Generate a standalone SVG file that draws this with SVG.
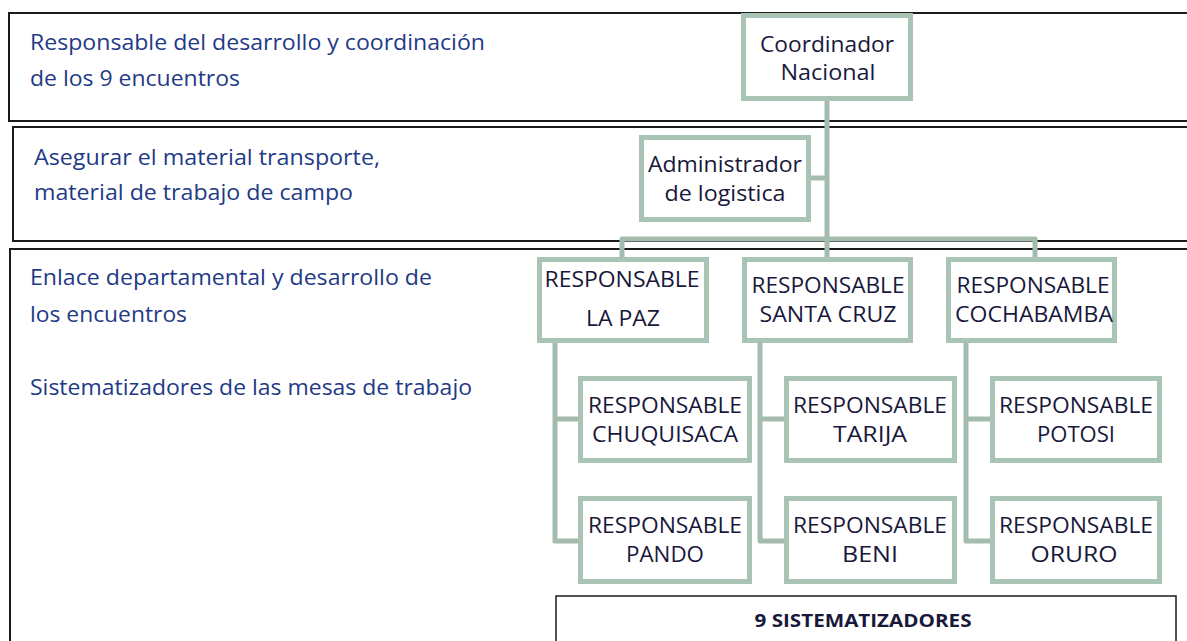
<svg xmlns="http://www.w3.org/2000/svg" width="1187" height="641" viewBox="0 0 1187 641">
<style>
.band{fill:none;stroke:#1a1a1a;stroke-width:2}
.note{font-family:"Open Sans","Liberation Sans",sans-serif;font-size:21px;fill:#1f3a86}
.box{fill:#fff;stroke:#a9c3b5;stroke-width:5}
.lbl{font-family:"Open Sans","Liberation Sans",sans-serif;font-size:22px;fill:#18183a;text-anchor:middle}
.conn{fill:none;stroke:#a3bcae;stroke-width:5;stroke-linejoin:round}
.sys{fill:#fff;stroke:#1a1a1a;stroke-width:1.5}
.bold{font-family:"Open Sans","Liberation Sans",sans-serif;font-size:17px;font-weight:bold;fill:#18183a;text-anchor:middle}
</style>
<rect width="1187" height="641" fill="#fff"/>
<g id="bands">
<rect class="band" x="9" y="13" width="1200" height="108"/>
<rect class="band" x="13" y="127" width="1200" height="114"/>
<rect class="band" x="10" y="249" width="1200" height="420"/>
<text class="note" x="30" y="50" textLength="455" lengthAdjust="spacingAndGlyphs">Responsable del desarrollo y coordinación</text>
<text class="note" x="30" y="86" textLength="210" lengthAdjust="spacingAndGlyphs">de los 9 encuentros</text>
<text class="note" x="34" y="165" textLength="346" lengthAdjust="spacingAndGlyphs">Asegurar el material transporte,</text>
<text class="note" x="34" y="200" textLength="319" lengthAdjust="spacingAndGlyphs">material de trabajo de campo</text>
<text class="note" x="30" y="285" textLength="402" lengthAdjust="spacingAndGlyphs">Enlace departamental y desarrollo de</text>
<text class="note" x="30" y="322" textLength="157" lengthAdjust="spacingAndGlyphs">los encuentros</text>
<text class="note" x="30" y="395" textLength="442" lengthAdjust="spacingAndGlyphs">Sistematizadores de las mesas de trabajo</text>
</g>
<g id="connectors">
<path class="conn" d="M827 101 V239"/>
<path class="conn" d="M811 178 H827"/>
<path class="conn" d="M622 257 V239 H1035 V257"/>
<path class="conn" d="M827 239 V257"/>
<path class="conn" d="M555 343 V541 H578 M555 419 H578"/>
<path class="conn" d="M760 343 V541 H784 M760 419 H784"/>
<path class="conn" d="M966 343 V541 H990 M966 419 H990"/>
</g>
<g id="coordinador">
<rect class="box" x="743.5" y="15.5" width="167" height="83"/>
<text class="lbl" x="827" y="52" textLength="134" lengthAdjust="spacingAndGlyphs">Coordinador</text>
<text class="lbl" x="828" y="80" textLength="95" lengthAdjust="spacingAndGlyphs">Nacional</text>
</g>
<g id="administrador">
<rect class="box" x="641.5" y="137.5" width="167" height="82"/>
<text class="lbl" x="725" y="172" textLength="154" lengthAdjust="spacingAndGlyphs">Administrador</text>
<text class="lbl" x="725" y="201" textLength="121" lengthAdjust="spacingAndGlyphs">de logistica</text>
</g>
<g id="lapaz">
<rect class="box" x="539.5" y="259.5" width="167" height="81"/>
<text class="lbl" x="622" y="287" textLength="155" lengthAdjust="spacingAndGlyphs">RESPONSABLE</text>
<text class="lbl" x="623" y="326" textLength="74" lengthAdjust="spacingAndGlyphs">LA PAZ</text>
</g>
<g id="santacruz">
<rect class="box" x="744.5" y="259.5" width="166" height="81"/>
<text class="lbl" x="828" y="293" textLength="153" lengthAdjust="spacingAndGlyphs">RESPONSABLE</text>
<text class="lbl" x="828" y="322" textLength="137" lengthAdjust="spacingAndGlyphs">SANTA CRUZ</text>
</g>
<g id="cochabamba">
<rect class="box" x="948.5" y="259.5" width="166" height="81"/>
<text class="lbl" x="1033" y="293" textLength="153" lengthAdjust="spacingAndGlyphs">RESPONSABLE</text>
<text class="lbl" x="1034" y="322" textLength="158" lengthAdjust="spacingAndGlyphs">COCHABAMBA</text>
</g>
<g id="chuquisaca">
<rect class="box" x="580.5" y="378.5" width="169" height="82"/>
<text class="lbl" x="665" y="413" textLength="154" lengthAdjust="spacingAndGlyphs">RESPONSABLE</text>
<text class="lbl" x="665" y="442" textLength="146" lengthAdjust="spacingAndGlyphs">CHUQUISACA</text>
</g>
<g id="pando">
<rect class="box" x="580.5" y="498.5" width="169" height="83"/>
<text class="lbl" x="665" y="533" textLength="154" lengthAdjust="spacingAndGlyphs">RESPONSABLE</text>
<text class="lbl" x="665" y="562" textLength="78" lengthAdjust="spacingAndGlyphs">PANDO</text>
</g>
<g id="tarija">
<rect class="box" x="786.5" y="378.5" width="168" height="82"/>
<text class="lbl" x="870" y="413" textLength="154" lengthAdjust="spacingAndGlyphs">RESPONSABLE</text>
<text class="lbl" x="870" y="442" textLength="74" lengthAdjust="spacingAndGlyphs">TARIJA</text>
</g>
<g id="beni">
<rect class="box" x="786.5" y="498.5" width="168" height="83"/>
<text class="lbl" x="870" y="533" textLength="154" lengthAdjust="spacingAndGlyphs">RESPONSABLE</text>
<text class="lbl" x="870" y="562" textLength="56" lengthAdjust="spacingAndGlyphs">BENI</text>
</g>
<g id="potosi">
<rect class="box" x="992.5" y="378.5" width="167" height="82"/>
<text class="lbl" x="1076" y="413" textLength="154" lengthAdjust="spacingAndGlyphs">RESPONSABLE</text>
<text class="lbl" x="1076" y="442" textLength="78" lengthAdjust="spacingAndGlyphs">POTOSI</text>
</g>
<g id="oruro">
<rect class="box" x="992.5" y="498.5" width="167" height="83"/>
<text class="lbl" x="1076" y="533" textLength="154" lengthAdjust="spacingAndGlyphs">RESPONSABLE</text>
<text class="lbl" x="1074" y="562" textLength="87" lengthAdjust="spacingAndGlyphs">ORURO</text>
</g>
<g id="sistematizadores">
<rect class="sys" x="556" y="596" width="620" height="60"/>
<text class="bold" x="863" y="627" textLength="217" lengthAdjust="spacingAndGlyphs">9 SISTEMATIZADORES</text>
</g>
</svg>
